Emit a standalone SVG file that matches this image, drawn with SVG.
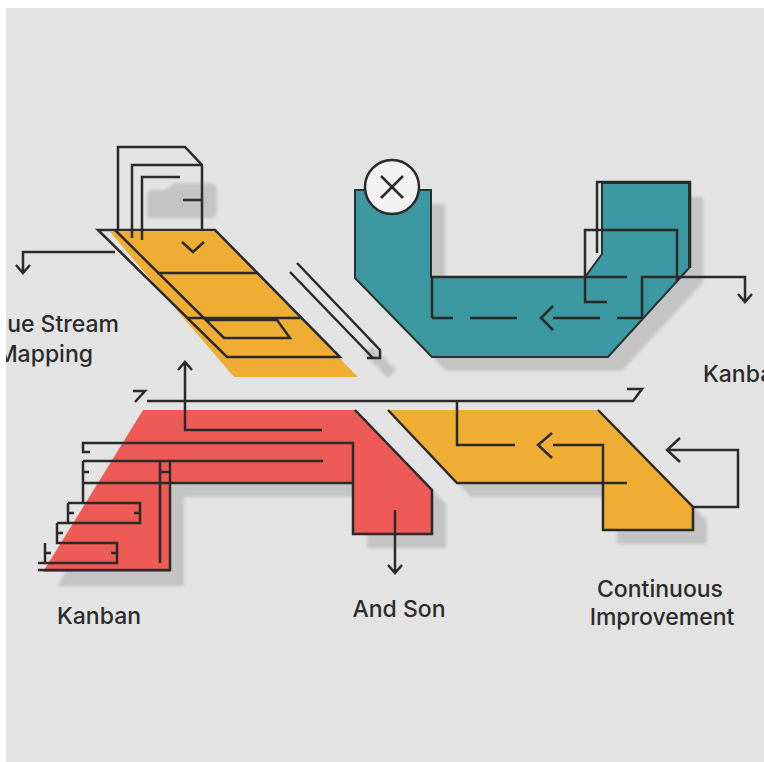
<svg xmlns="http://www.w3.org/2000/svg" width="764" height="762" viewBox="0 0 764 762">
  <defs>
    <style>
      .ln{fill:none;stroke:#2a2a2a;stroke-width:2.5;stroke-linejoin:miter;stroke-linecap:butt}
      .sh{fill:#c4c4c4}
      .lbl{font-family:Inter,"Open Sans","Liberation Sans",sans-serif;font-size:23px;font-weight:500;fill:#2b2b2b}
    </style>
    <filter id="soft" x="-10%" y="-10%" width="120%" height="120%">
      <feGaussianBlur stdDeviation="1.6"/>
    </filter>
    <clipPath id="frame"><rect x="6" y="8" width="758" height="754"/></clipPath>
  </defs>

  <rect width="764" height="762" fill="#ffffff"/>
  <g clip-path="url(#frame)">
    <rect x="6" y="8" width="758" height="754" fill="#e3e3e3"/>

    <!-- drop shadows -->
    <g id="shadows" filter="url(#soft)">
      <path class="sh" d="M147,218 V195 Q147,190 153,190 H165 L175,183 H210 Q217,183 217,190 V212 Q217,218 210,218 Z"/>
      <path class="sh" d="M369,204 H445 V291 H599 L616,268 V197 H703 V282 L622,371 H446 L369,292 Z"/>
      <path class="sh" d="M157,424 H369 L446,504 V548 H367 V497 H184 V586 H57 Z"/>
      <path class="sh" d="M402,424 H612 L707,521 V544 H617 V497 H471 Z"/>
      <path class="sh" d="M372,346 L396,370 L388,378 L364,354 Z"/>
    </g>

    <!-- Value Stream Mapping block -->
    <g id="value-stream">
      <path d="M110,232 H215 L358,377 H234 Z" fill="#efad33"/>
      <path class="ln" d="M98,230 L227,357 H340 L215,230 Z"/>
      <path class="ln" d="M115,230 L224,338 H290 L277,320 H205"/>
      <path class="ln" d="M157,273 H257"/>
      <path class="ln" d="M187,318 H300"/>
      <path class="ln" d="M182,242 L193,252 L204,242"/>
      <path class="ln" d="M118,230 V147 H185 L202,165 V230"/>
      <path class="ln" d="M132,238 V165 H202"/>
      <path class="ln" d="M142,240 V177 H180"/>
      <path class="ln" d="M183,200 H202"/>
      <path class="ln" d="M297,263 L380,350 V358 H367 M290,272 L373,358"/>
      <text class="lbl" x="119" y="332" text-anchor="end">Value Stream</text>
      <text class="lbl" x="93" y="362" text-anchor="end">Mapping</text>
    </g>

    <!-- Kanban (teal) block -->
    <g id="kanban-top">
      <path d="M355,190 H431 V277 H585 L602,254 V183 H689 V268 L608,357 H432 L355,278 Z" fill="#3c98a1" stroke="#263336" stroke-width="2"/>
      <path class="ln" d="M597,253 V182 H690 V268"/>
      <path class="ln" d="M607,302 H585 V230 H677 V281"/>
      <path class="ln" d="M432,318 V277 H627"/>
      <path class="ln" d="M432,318 H453 M470,318 H517 M553,318 H600 M617,318 H642"/>
      <path class="ln" d="M553,306 L541,318 L553,330"/>
      <path class="ln" d="M642,318 V277 H745 V301"/>
      <path class="ln" d="M738,294 L745,302 L752,294"/>
      <circle cx="392" cy="187" r="27" fill="#f2f2f2" stroke="#2a2a2a" stroke-width="2.5"/>
      <path class="ln" d="M381,176 L403,198 M403,176 L381,198"/>
      <text class="lbl" x="703" y="382">Kanban</text>
    </g>

    <!-- Kanban (red) block -->
    <g id="kanban-bottom">
      <path d="M143,410 H355 L432,490 V534 H353 V483 H170 V572 H43 Z" fill="#ee5a55"/>
      <path class="ln" d="M90,452 H83 V443 H353 V534 H432 V490 L355,410"/>
      <path class="ln" d="M83,461 H323"/>
      <path class="ln" d="M83,461 V503"/>
      <path class="ln" d="M83,483 H353"/>
      <path class="ln" d="M68,503 H140 V523 H57 M68,503 V523"/>
      <path class="ln" d="M57,523 V543 H117 V563 H38 M45,543 V563"/>
      <path class="ln" d="M38,570 H170 V461 M160,461 V563"/>
      <path class="ln" d="M83,472 H89 M68,513 H74 M57,533 H63 M45,553 H51 M140,513 H134 M117,553 H111 M160,472 H170"/>
      <path class="ln" d="M395,510 V573 M388,565 L395,573 L402,565"/>
      <text class="lbl" x="57" y="624">Kanban</text>
    </g>

    <!-- Continuous Improvement (yellow) block -->
    <g id="continuous">
      <path d="M388,410 H598 L693,507 V530 H603 V483 H457 Z" fill="#efad33"/>
      <path class="ln" d="M388,410 L457,483 H627"/>
      <path class="ln" d="M598,410 L693,507 V530 H603 V445 H553"/>
      <path class="ln" d="M552,433 L538,445 L552,458"/>
      <path class="ln" d="M457,401 V445 H515"/>
      <path class="ln" d="M693,507 H738 V450 H667 M680,438 L667,450 L680,462"/>
      <text class="lbl" x="660" y="597" text-anchor="middle">Continuous</text>
      <text class="lbl" x="662" y="625" text-anchor="middle">Improvement</text>
    </g>

    <!-- And Son label -->
    <g id="and-son">
      <text class="lbl" x="399" y="617" text-anchor="middle">And Son</text>
    </g>

    <!-- connectors -->
    <g id="connectors">
      <path class="ln" d="M115,252 H23 V272 M16,265 L23,273 L30,265"/>
      <path class="ln" d="M322,430 H185 V363 M178,370 L185,362 L192,370"/>
      <path class="ln" d="M133,391 H145 L135,402 M147,401 H633 L642,389 H627"/>
    </g>
  </g>
</svg>
